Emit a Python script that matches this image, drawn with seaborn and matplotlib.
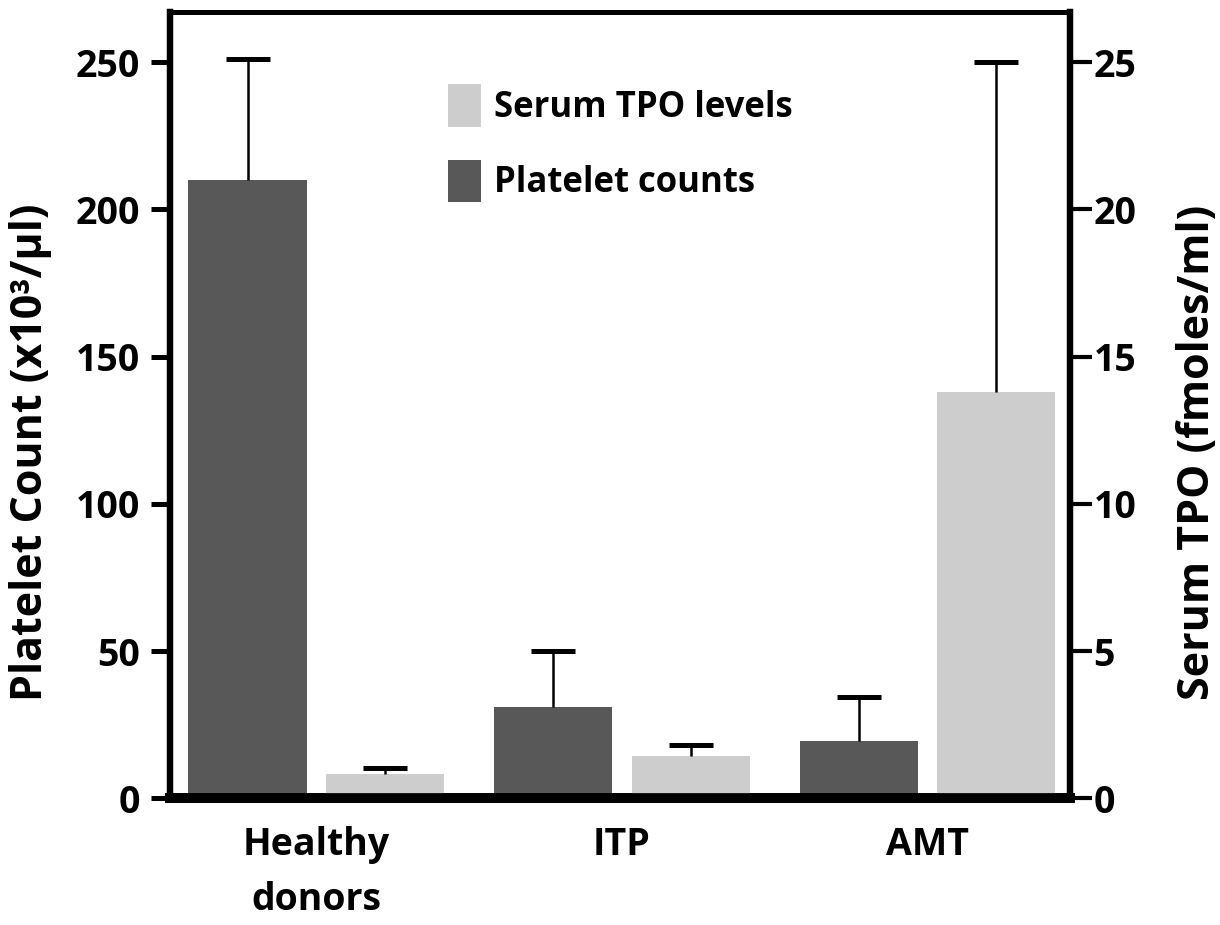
import numpy as np
import pandas as pd
import seaborn as sns
import matplotlib.pyplot as plt
from matplotlib.patches import Patch

# values
groups = ['Healthy\ndonors', 'ITP', 'AMT']
series = ['Platelet counts', 'Serum TPO levels']
platelet_mean = [210, 31, 19.5]
platelet_err = [41, 19, 15]
tpo_mean = [0.82, 1.43, 13.8]
tpo_err = [0.2, 0.37, 11.2]

dark = '#585858'
light = '#cdcdcd'

sns.set_style('white')
plt.rcParams['font.family'] = ['Open Sans', 'DejaVu Sans']
plt.rcParams['font.weight'] = 'bold'
for k in ['text.color', 'axes.labelcolor', 'xtick.color', 'ytick.color']:
    plt.rcParams[k] = 'black'

# long table: each axis only gets its own series, the other stays NaN so the dodge slots are kept
df = pd.DataFrame({
    'group': groups * 2,
    'series': [series[0]] * 3 + [series[1]] * 3,
    'platelet': platelet_mean + [np.nan] * 3,
    'tpo': [np.nan] * 3 + tpo_mean,
})

fig = plt.figure(figsize=(12.2, 9.25), dpi=100)
ax = fig.add_axes([0.139, 0.137, 0.738, 0.85])
ax2 = ax.twinx()

for a, col in [(ax, 'platelet'), (ax2, 'tpo')]:
    sns.barplot(data=df, x='group', y=col, hue='series', hue_order=series,
                order=groups, palette=[dark, light], width=0.9, gap=0.14,
                errorbar=None, legend=False, ax=a, saturation=1)

for a, err in [(ax, platelet_err), (ax2, tpo_err)]:
    bars = [p for p in a.patches if np.isfinite(p.get_height()) and p.get_height() > 0]
    bars = sorted(bars, key=lambda p: p.get_x())
    for p in bars:
        p.set_edgecolor('none')
    xs = [p.get_x() + p.get_width() / 2 for p in bars]
    ys = [p.get_height() for p in bars]
    _, caps, _ = a.errorbar(xs, ys, yerr=[[0] * len(err), err], fmt='none',
                            ecolor='black', elinewidth=1.8, capsize=15.5,
                            capthick=3.6, zorder=1)
    caps[0].set_visible(False)  # only the upper cap

ax.set_xlim(-0.48, 2.466)
ax.set_ylim(0, 267)
ax2.set_ylim(0, 26.7)
ax.set_yticks([0, 50, 100, 150, 200, 250])
ax2.set_yticks([0, 5, 10, 15, 20, 25])

ax.set_xlabel('')
ax.set_ylabel('Platelet Count (x10³/µl)', fontsize=31, fontweight='bold')
ax2.set_ylabel('Serum TPO (fmoles/ml)', fontsize=31, fontweight='bold')
ax.yaxis.set_label_coords(-0.154, 0.44)
ax2.yaxis.set_label_coords(1.142, 0.44)
ax.yaxis.label.set_va('center')
ax2.yaxis.label.set_va('center')

ax.set_xticks(range(len(groups)))
ax.set_xticklabels(groups, fontweight='bold', linespacing=1.6, fontsize=27)
ax.tick_params(axis='x', length=0, pad=20)
ax.tick_params(axis='y', direction='out', length=14, width=3.6, labelsize=27, left=True, pad=7)
ax2.tick_params(axis='y', direction='out', length=16, width=3, labelsize=27, right=True, pad=1)
for lab in ax.get_yticklabels() + ax2.get_yticklabels():
    lab.set_fontweight('bold')

for a in (ax, ax2):
    for s in a.spines.values():
        s.set_color('black')
    a.spines['top'].set_linewidth(3.6)
    a.spines['left'].set_linewidth(4.5)
    a.spines['right'].set_linewidth(4.5)
    a.spines['bottom'].set_linewidth(7)

handles = [Patch(facecolor=light, edgecolor='none', label=series[1]),
           Patch(facecolor=dark, edgecolor='none', label=series[0])]
ax.legend(handles=handles, loc='upper left', bbox_to_anchor=(0.29, 0.93),
          frameon=False, borderpad=0, prop={'size': 25, 'weight': 'bold'},
          handlelength=0.96, handleheight=1.5, handletextpad=0.35, labelspacing=0.95)

fig.savefig('out.png', dpi=100)
